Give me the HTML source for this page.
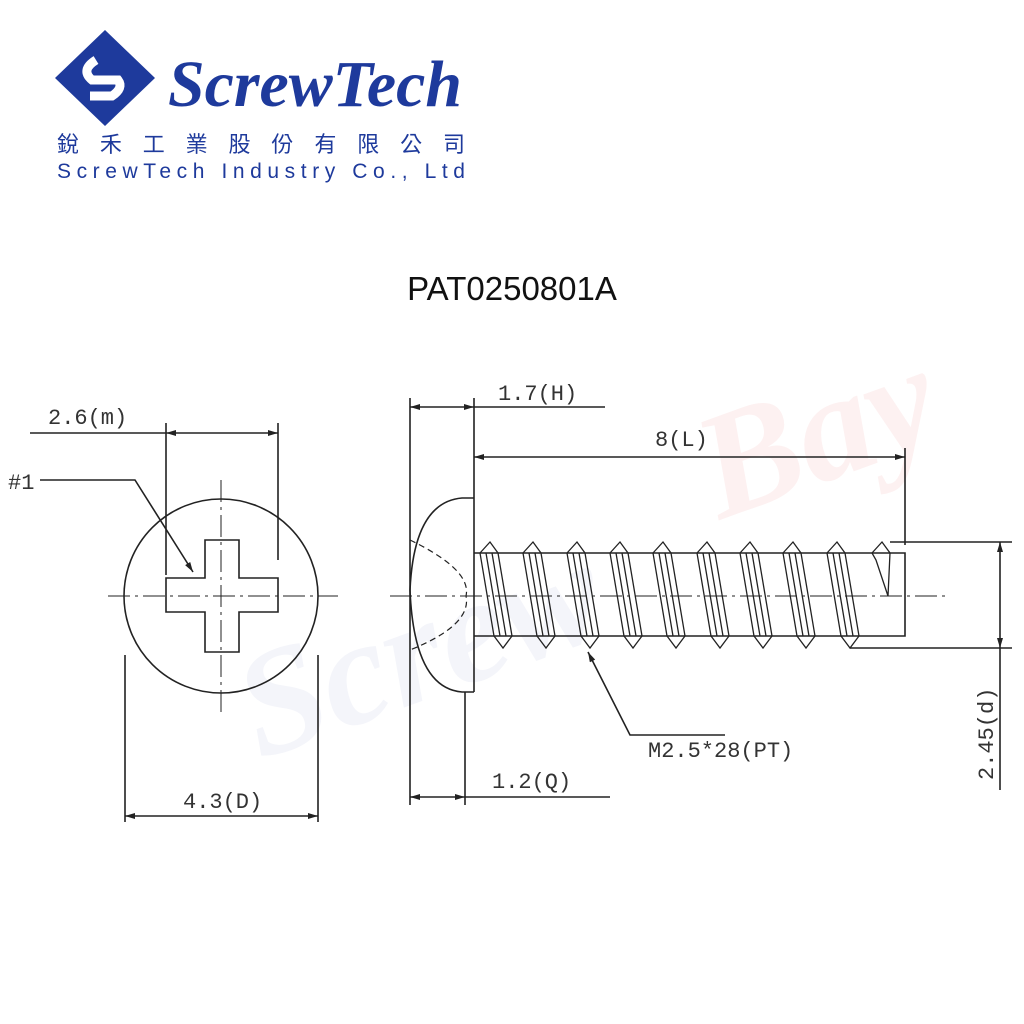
<!DOCTYPE html>
<html><head><meta charset="utf-8"><style>
html,body{margin:0;padding:0;background:#fff;width:1024px;height:1024px;overflow:hidden}
svg{display:block}
.m{font-family:"Liberation Mono",monospace;font-size:22px;fill:#333}
</style></head><body>
<svg width="1024" height="1024" viewBox="0 0 1024 1024" xmlns="http://www.w3.org/2000/svg">
<defs>
<marker id="a" viewBox="0 0 10 6" refX="10" refY="3" markerWidth="14" markerHeight="6" orient="auto-start-reverse" markerUnits="userSpaceOnUse"><path d="M0,0L10,3L0,6z" fill="#222"/></marker>
</defs>
<!-- watermark -->
<text x="720" y="520" font-family="Liberation Serif,serif" font-style="italic" font-weight="bold" font-size="150" fill="#fdf1f1" transform="rotate(-20 720 520)">Bay</text>
<text x="260" y="760" font-family="Liberation Serif,serif" font-style="italic" font-weight="bold" font-size="150" fill="#f4f5fa" transform="rotate(-20 260 760)">Screw</text>
<!-- logo -->
<g fill="#1e3a9c">
<path d="M105,30 L155,78 L105,126 L55,78 Z"/>
<path d="M96,60 Q80,70 92,80 L118,80 Q124,88 112,96 L90,96" fill="none" stroke="#fff" stroke-width="9"/>
<text x="168" y="106" font-family="Liberation Serif,serif" font-style="italic" font-weight="bold" font-size="66" textLength="294" lengthAdjust="spacingAndGlyphs">ScrewTech</text>
<text x="57" y="152" font-family="'Liberation Sans','Noto Sans CJK TC',sans-serif" font-size="22" textLength="408" lengthAdjust="spacing">銳禾工業股份有限公司</text>
<text x="57" y="178" font-family="Liberation Sans,sans-serif" font-size="21" textLength="408" lengthAdjust="spacing">ScrewTech Industry Co., Ltd</text>
</g>
<text x="512" y="300" text-anchor="middle" font-family="Liberation Sans,sans-serif" font-size="33" fill="#111">PAT0250801A</text>
<g stroke="#222" stroke-width="1.6" fill="none">
<!-- left view -->
<circle cx="221" cy="596" r="97"/>
<path d="M205,540H239V578H278V612H239V652H205V612H166V578H205Z"/>
<path d="M108,596H338M221,480V712" stroke-dasharray="22,5,3,5" stroke-width="1"/>
<path d="M166,423V575M278,423V560M125,655V822M318,655V822"/>
<path d="M30,433H166"/>
<path d="M166,433H278" marker-start="url(#a)" marker-end="url(#a)"/>
<path d="M125,816H318" marker-start="url(#a)" marker-end="url(#a)"/>
<path d="M40,480H135L193,572" marker-end="url(#a)"/>
<!-- right view -->
<path d="M410,398V805M474,398V692M465,692V805M905,448V545"/>
<path d="M474,498H462Q414,502 410,590Q414,688 462,692H474"/>
<path d="M410,540Q472,570 466,596Q472,625 410,650" stroke-dasharray="6,4" stroke-width="1.2"/>
<path d="M474,553H905V636H474"/>
<path d="M390,596H945" stroke-dasharray="22,5,3,5" stroke-width="1"/>
<g stroke-width="1.3">
<path d="M480,553L490,542L498,553L512,636L503,648L494,636ZM486,553L500,636M492,553L506,636"/>
<path d="M523,553L533,542L541,553L555,636L546,648L537,636ZM529,553L543,636M535,553L549,636"/>
<path d="M567,553L577,542L585,553L599,636L590,648L581,636ZM573,553L587,636M579,553L593,636"/>
<path d="M610,553L620,542L628,553L642,636L633,648L624,636ZM616,553L630,636M622,553L636,636"/>
<path d="M653,553L663,542L671,553L685,636L676,648L667,636ZM659,553L673,636M665,553L679,636"/>
<path d="M697,553L707,542L715,553L729,636L720,648L711,636ZM703,553L717,636M709,553L723,636"/>
<path d="M740,553L750,542L758,553L772,636L763,648L754,636ZM746,553L760,636M752,553L766,636"/>
<path d="M783,553L793,542L801,553L815,636L806,648L797,636ZM789,553L803,636M795,553L809,636"/>
<path d="M827,553L837,542L845,553L859,636L850,648L841,636ZM833,553L847,636M839,553L853,636"/>
<path d="M872,553L882,542L890,553L888,596L876,560Z"/>
</g>
<path d="M410,407H474" marker-start="url(#a)" marker-end="url(#a)"/>
<path d="M474,407H605"/>
<path d="M474,457H905" marker-start="url(#a)" marker-end="url(#a)"/>
<path d="M890,542H1012M850,648H1012"/>
<path d="M1000,542V648" marker-start="url(#a)" marker-end="url(#a)"/>
<path d="M1000,648V790"/>
<path d="M410,797H465" marker-start="url(#a)" marker-end="url(#a)"/>
<path d="M465,797H610"/>
<path d="M725,735H630L588,652" marker-end="url(#a)"/>
</g>
<g class="m">
<text x="48" y="424">2.6(m)</text>
<text x="8" y="489">#1</text>
<text x="183" y="808">4.3(D)</text>
<text x="498" y="400">1.7(H)</text>
<text x="655" y="446">8(L)</text>
<text x="492" y="788">1.2(Q)</text>
<text x="648" y="757">M2.5*28(PT)</text>
<text transform="translate(993,780) rotate(-90)">2.45(d)</text>
</g>
</svg>
</body></html>
